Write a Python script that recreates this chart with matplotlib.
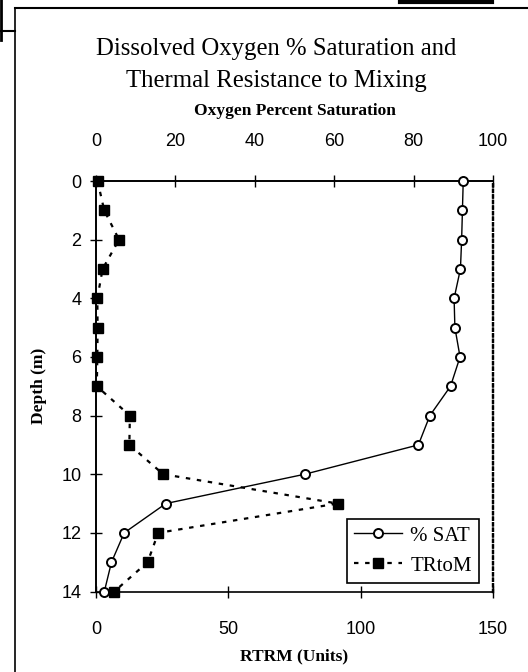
import matplotlib
matplotlib.use("Agg")
import matplotlib.pyplot as plt
from matplotlib.lines import Line2D

# Depth profile (m)
depth = [0, 1, 2, 3, 4, 5, 6, 7, 8, 9, 10, 11, 12, 13, 14]
# Dissolved oxygen, percent saturation
pct_sat = [92.5, 92.3, 92.1, 91.8, 90.2, 90.4, 91.7, 89.3, 84.1, 81.2, 52.6, 17.6, 7.1, 3.9, 2.1]
# Relative thermal resistance to mixing (units)
rtrm = [0.6, 3.1, 8.7, 2.5, 0.5, 0.6, 0.5, 0.3, 12.8, 12.6, 25.4, 91.3, 23.5, 19.5, 6.9]

depth_ticks = [0, 2, 4, 6, 8, 10, 12, 14]
sat_ticks = [0, 20, 40, 60, 80, 100]
rtrm_ticks = [0, 50, 100, 150]

serif = "Liberation Serif"
sans = "Liberation Sans"

fig = plt.figure(figsize=(5.28, 6.72), dpi=100)
W, H = 528, 672

# page frame lines
frame = dict(color="black", transform=fig.transFigure, clip_on=False)
fig.add_artist(Line2D([15 / W, 1], [1 - 8 / H, 1 - 8 / H], lw=1.5, **frame))
fig.add_artist(Line2D([400 / W, 492 / W], [1 - 2 / H, 1 - 2 / H], lw=3, **frame))
fig.add_artist(Line2D([15 / W, 15 / W], [1 - 8 / H, 0], lw=1.2, **frame))
fig.add_artist(Line2D([0, 15 / W], [1 - 31 / H, 1 - 31 / H], lw=1.5, **frame))
fig.add_artist(Line2D([1 / W, 1 / W], [1, 1 - 40 / H], lw=2, **frame))

ax = fig.add_axes([96 / W, 1 - 591.5 / H, (493 - 96) / W, (591.5 - 181) / H])
ax_top = ax.twiny()

# thermal resistance on the bottom axis
ax.plot(rtrm, depth, linestyle=(0, (2, 3)), color="black", lw=1.6,
        marker="s", markersize=6.5, markerfacecolor="black",
        markeredgecolor="black", clip_on=False, zorder=3)
# oxygen saturation on the top axis
ax_top.plot(pct_sat, depth, linestyle="-", color="black", lw=1.0,
            marker="o", markersize=6.5, markerfacecolor="white",
            markeredgecolor="black", markeredgewidth=1.4, clip_on=False, zorder=4)

ax.set_xlim(0, 150)
ax_top.set_xlim(0, 100)
ax.set_ylim(14, 0)

ax.set_xticks(rtrm_ticks)
ax_top.set_xticks(sat_ticks)
ax.set_yticks(depth_ticks)

for a in (ax, ax_top):
    a.tick_params(direction="inout", length=9, width=1.0, labelsize=13, pad=8)
    for lab in a.get_xticklabels() + a.get_yticklabels():
        lab.set_fontfamily(sans)
ax.tick_params(axis="y", pad=6)
ax.tick_params(axis="x", pad=17)
ax_top.tick_params(axis="x", pad=18)

for a in (ax, ax_top):
    for side in ("top", "bottom", "left"):
        a.spines[side].set_linewidth(1.2)
    a.spines["right"].set_linestyle((0, (1, 1.5)))
    a.spines["right"].set_linewidth(1.6)
ax_top.spines["bottom"].set_visible(False)

ax.set_xlabel("RTRM (Units)", fontfamily=serif, fontweight="bold", fontsize=12.5, labelpad=7)
ax.set_ylabel("Depth (m)", fontfamily=serif, fontweight="bold", fontsize=12.5, labelpad=10)
ax_top.set_xlabel("Oxygen Percent Saturation", fontfamily=serif, fontweight="bold",
                  fontsize=12.5, labelpad=13)

fig.text(276 / W, 1 - 65 / H, "Dissolved Oxygen % Saturation and\nThermal Resistance to Mixing",
         ha="center", va="center", fontfamily=serif, fontsize=17.8, linespacing=1.55)

handles = [
    Line2D([], [], color="black", lw=1.0, marker="o", markersize=6.5,
           markerfacecolor="white", markeredgecolor="black", markeredgewidth=1.4),
    Line2D([], [], color="black", lw=1.6, linestyle=(0, (2, 3)), marker="s",
           markersize=6.5, markerfacecolor="black"),
]
leg = ax_top.legend(handles, ["% SAT", "TRtoM"], loc="lower right",
                    bbox_to_anchor=(479 / W, 1 - 583 / H), bbox_transform=fig.transFigure,
                    frameon=True, fancybox=False, edgecolor="black", framealpha=1,
                    prop={"family": serif, "size": 15}, handlelength=2.3,
                    borderpad=0.35, labelspacing=0.5, handletextpad=0.4, borderaxespad=0)
leg.get_frame().set_linewidth(1.2)

fig.savefig("out.png", dpi=100)
